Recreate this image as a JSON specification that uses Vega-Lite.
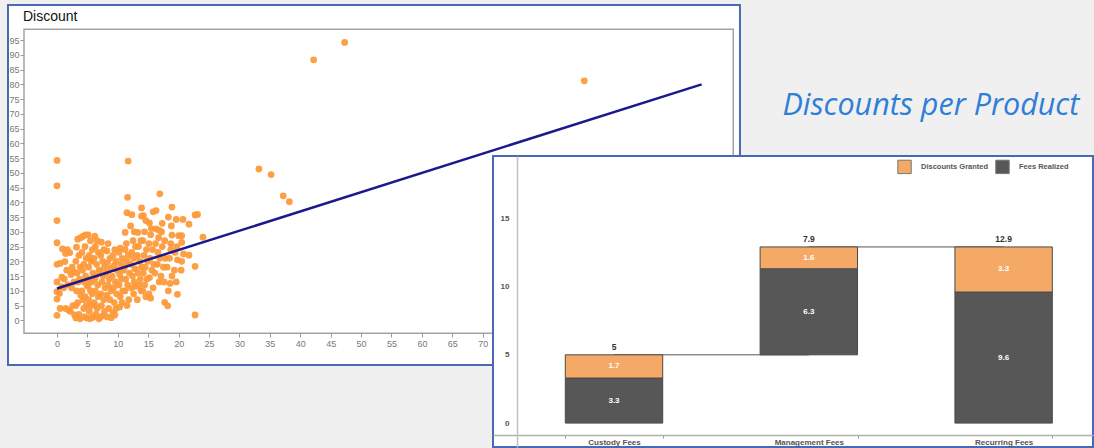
{
  "$schema": "https://vega.github.io/schema/vega-lite/v6.json",
  "background": "#f0f0f0",
  "padding": {"left": 7, "top": 4, "right": 0, "bottom": 0},
  "spacing": 0,
  "bounds": "flush",
  "resolve": {"scale": {"x": "independent", "y": "independent", "color": "independent"}},
  "config": {
    "font": "Liberation Sans",
    "axis": {"labelFont": "Liberation Sans", "grid": false},
    "legend": {"labelFont": "Liberation Sans"}
  },
  "hconcat": [
    {
      "width": 485,
      "height": 360,
      "view": {"fill": null, "stroke": null},
      "title": {"text": "Discount", "anchor": "start", "dx": 16, "offset": -20, "fontSize": 14, "fontWeight": "normal", "font": "Liberation Sans", "color": "#111111"},
      "layer": [
        {
          "data": {"values": [{"part": "panel"}]},
          "mark": {"type": "rect", "fill": "white", "stroke": "#4a69b5", "strokeWidth": 2},
          "encoding": {
            "x": {"datum": -8.06, "type": "quantitative", "scale": {"domain": [-8.06, 71.69], "nice": false, "zero": false},
                  "axis": {"title": null, "values": [0,5,10,15,20,25,30,35,40,45,50,55,60,65,70], "offset": -32, "domain": false, "tickSize": 4, "tickColor": "#9a9a9a", "labelColor": "#777777", "labelFontSize": 9, "labelPadding": 2, "zindex": 1}},
            "x2": {"datum": 112.3},
            "y": {"datum": -15.15, "type": "quantitative", "scale": {"domain": [-15.15, 106.9], "nice": false, "zero": false},
                  "axis": {"title": null, "values": [0,5,10,15,20,25,30,35,40,45,50,55,60,65,70,75,80,85,90,95], "offset": -16, "domain": false, "tickSize": 4, "tickColor": "#9a9a9a", "labelColor": "#777777", "labelFontSize": 9, "labelPadding": 1, "zindex": 1}},
            "y2": {"datum": 106.9}
          }
        },
        {
          "data": {"values": [{"part": "plot frame"}]},
          "mark": {"type": "rect", "filled": false, "stroke": "#a3a3a3", "strokeWidth": 1.5},
          "encoding": {
            "x": {"datum": -5.43, "type": "quantitative", "scale": {"domain": [-8.06, 71.69], "nice": false, "zero": false},
                  "axis": {"title": null, "values": [0,5,10,15,20,25,30,35,40,45,50,55,60,65,70], "offset": -32, "domain": false, "tickSize": 4, "tickColor": "#9a9a9a", "labelColor": "#777777", "labelFontSize": 9, "labelPadding": 2, "zindex": 1}},
            "x2": {"datum": 111.2},
            "y": {"datum": -4.4, "type": "quantitative", "scale": {"domain": [-15.15, 106.9], "nice": false, "zero": false},
                  "axis": {"title": null, "values": [0,5,10,15,20,25,30,35,40,45,50,55,60,65,70,75,80,85,90,95], "offset": -16, "domain": false, "tickSize": 4, "tickColor": "#9a9a9a", "labelColor": "#777777", "labelFontSize": 9, "labelPadding": 1, "zindex": 1}},
            "y2": {"datum": 98.7}
          }
        },
        {
          "data": {"values": [
            {"x":0,"y":54.2},{"x":0,"y":45.6},{"x":11.7,"y":54},{"x":42.2,"y":88.3},{"x":47.3,"y":94.2},{"x":33.2,"y":51.3},{"x":35.2,"y":49.4},{"x":37.2,"y":42.2},{"x":38.2,"y":40.2},{"x":86.7,"y":81.2},{"x":22.7,"y":1.8},{"x":24,"y":28.2},{"x":22.7,"y":18.3},
            {"x":0,"y":33.8},{"x":0,"y":26.3},{"x":0,"y":19},{"x":0.5,"y":19.3},{"x":0,"y":13},{"x":0,"y":9.7},{"x":0,"y":7.2},{"x":0,"y":1.7},{"x":0.9,"y":24.2},{"x":0.8,"y":14.6},{"x":0.8,"y":11.3},{"x":0.4,"y":9.1},{"x":0.5,"y":4},
            {"x":1.4,"y":22.6},{"x":1.3,"y":19.9},{"x":1.6,"y":17},{"x":1.2,"y":14},{"x":1.8,"y":12},{"x":1.1,"y":11},{"x":1.4,"y":4},{"x":1.9,"y":3.5},{"x":1.7,"y":24},
            {"x":2.1,"y":22.9},{"x":2.5,"y":18},{"x":2.3,"y":15.5},{"x":2.8,"y":13},{"x":2.4,"y":11},{"x":2.6,"y":5},{"x":2.2,"y":3},{"x":2.9,"y":1.8},{"x":2.7,"y":16.5},
            {"x":3.4,"y":27.5},{"x":3.2,"y":24.8},{"x":3.6,"y":22},{"x":3.1,"y":20},{"x":3.8,"y":18},{"x":3.3,"y":16},{"x":3.7,"y":14},{"x":3.5,"y":13},{"x":3.2,"y":10},{"x":3.9,"y":8.5},{"x":3.4,"y":6},{"x":3.1,"y":5},{"x":3.6,"y":2},{"x":3.1,"y":0.8},{"x":3.8,"y":0.5},{"x":3.9,"y":28},
            {"x":4.3,"y":28.5},{"x":4.6,"y":25},{"x":4.1,"y":23},{"x":4.8,"y":21},{"x":4.4,"y":19},{"x":4.2,"y":17},{"x":4.7,"y":15},{"x":4.5,"y":13},{"x":4.9,"y":12},{"x":4.1,"y":10},{"x":4.6,"y":8},{"x":4.3,"y":7},{"x":4.8,"y":5},{"x":4.4,"y":4},{"x":4.5,"y":1.2},{"x":4.9,"y":0.8},{"x":4.7,"y":29},
            {"x":5.1,"y":29},{"x":5.5,"y":27},{"x":5.8,"y":24},{"x":5.3,"y":22},{"x":5.6,"y":20},{"x":5.2,"y":18},{"x":5.9,"y":16},{"x":5.4,"y":14},{"x":5.7,"y":13},{"x":5.1,"y":11.5},{"x":5.5,"y":10},{"x":5.8,"y":9},{"x":5.2,"y":7},{"x":5.6,"y":5},{"x":5.3,"y":3},{"x":5.9,"y":1},{"x":5.4,"y":0.5},{"x":5.7,"y":20.5},
            {"x":6.2,"y":28.5},{"x":6.6,"y":27},{"x":6.3,"y":25},{"x":6.8,"y":23},{"x":6.1,"y":21},{"x":6.5,"y":19},{"x":6.9,"y":17},{"x":6.4,"y":15},{"x":6.2,"y":14},{"x":6.7,"y":12},{"x":6.3,"y":10},{"x":6.8,"y":8},{"x":6.1,"y":6},{"x":6.3,"y":5.1},{"x":6.6,"y":4},{"x":6.4,"y":2},{"x":6.9,"y":0.5},{"x":6,"y":1.2},
            {"x":7.3,"y":26.5},{"x":7.7,"y":24},{"x":7.2,"y":22},{"x":7.5,"y":20},{"x":7.8,"y":18},{"x":7.1,"y":16.5},{"x":7.6,"y":15},{"x":7.4,"y":13},{"x":7.9,"y":11},{"x":7.2,"y":9},{"x":7.7,"y":7},{"x":7.3,"y":5},{"x":7.8,"y":3},{"x":7,"y":0.9},{"x":7.5,"y":1.5},
            {"x":8.4,"y":26},{"x":8.2,"y":23.5},{"x":8.7,"y":21},{"x":8.3,"y":19.5},{"x":8.8,"y":17.5},{"x":8.1,"y":16},{"x":8.6,"y":14},{"x":8.4,"y":12},{"x":8.9,"y":10},{"x":8.2,"y":8.5},{"x":8.7,"y":7},{"x":8.5,"y":4},{"x":8.2,"y":1.2},{"x":8.9,"y":0.9},
            {"x":9.5,"y":24},{"x":9.2,"y":22},{"x":9.7,"y":20},{"x":9.4,"y":18.5},{"x":9.9,"y":17},{"x":9.1,"y":15},{"x":9.6,"y":13},{"x":9.3,"y":11},{"x":9.8,"y":9},{"x":9.4,"y":6},{"x":9.7,"y":4},{"x":9.5,"y":1.8},{"x":9.2,"y":2.6},
            {"x":10.4,"y":24.5},{"x":10.2,"y":23},{"x":10.7,"y":21},{"x":10.5,"y":19},{"x":10.9,"y":17},{"x":10.3,"y":15.5},{"x":10.6,"y":14},{"x":10.2,"y":12},{"x":10.8,"y":10},{"x":10.4,"y":8},{"x":10.7,"y":6},{"x":10.3,"y":4.5},
            {"x":11.6,"y":41.7},{"x":11.5,"y":36.5},{"x":11.2,"y":29.8},{"x":11.4,"y":26},{"x":11.2,"y":24},{"x":11.7,"y":22},{"x":11.5,"y":20},{"x":11.1,"y":18},{"x":11.9,"y":16},{"x":11.3,"y":14},{"x":11.6,"y":12},{"x":11.2,"y":10},{"x":11.8,"y":7},{"x":11.5,"y":5},
            {"x":12.3,"y":35.8},{"x":12.1,"y":32},{"x":12.7,"y":30},{"x":12.5,"y":27},{"x":12.9,"y":25},{"x":12.3,"y":23},{"x":12.6,"y":21},{"x":12.1,"y":19},{"x":12.8,"y":17.5},{"x":12.4,"y":15},{"x":12.7,"y":13},{"x":12.2,"y":11},{"x":12.6,"y":9},{"x":12.9,"y":11.5},
            {"x":13.9,"y":38.1},{"x":13.3,"y":29.8},{"x":13.8,"y":27},{"x":13.4,"y":25},{"x":13.2,"y":22},{"x":13.6,"y":20},{"x":13.9,"y":18},{"x":13.3,"y":16},{"x":13.7,"y":14},{"x":13.5,"y":12},{"x":13.2,"y":7},{"x":13.8,"y":10},{"x":13.9,"y":35.3},
            {"x":14.6,"y":33.8},{"x":14.2,"y":35.5},{"x":14.4,"y":30},{"x":14.1,"y":27},{"x":14.7,"y":24},{"x":14.3,"y":22},{"x":14.9,"y":20},{"x":14.5,"y":18},{"x":14.2,"y":16},{"x":14.8,"y":14},{"x":14.4,"y":12},{"x":14.6,"y":8},{"x":14.1,"y":10},
            {"x":15.8,"y":36.8},{"x":15.2,"y":33},{"x":15.5,"y":31.1},{"x":15.4,"y":29},{"x":15.1,"y":26},{"x":15.7,"y":24},{"x":15.3,"y":21},{"x":15.9,"y":19},{"x":15.6,"y":17},{"x":15.2,"y":14.5},{"x":15.8,"y":11},{"x":15.4,"y":7.5},{"x":15.1,"y":9},
            {"x":16.3,"y":37.2},{"x":16.8,"y":30.5},{"x":16.3,"y":31},{"x":16.7,"y":28},{"x":16.2,"y":26},{"x":16.6,"y":23},{"x":16.9,"y":21},{"x":16.5,"y":19},{"x":16.1,"y":16},{"x":16.8,"y":13},{"x":16.9,"y":42.9},
            {"x":17.3,"y":32.9},{"x":17.2,"y":30},{"x":17.7,"y":27},{"x":17.3,"y":25},{"x":17.8,"y":21},{"x":17.5,"y":18},{"x":17.1,"y":15},{"x":17.6,"y":13},{"x":17.7,"y":6.1},{"x":18.2,"y":4.9},
            {"x":18.9,"y":38.4},{"x":18.3,"y":35},{"x":18.8,"y":32},{"x":18.9,"y":28.9},{"x":18.7,"y":26},{"x":18.7,"y":24},{"x":18.5,"y":21},{"x":18.1,"y":18},{"x":18.9,"y":15},{"x":18.3,"y":10},{"x":18.6,"y":12.5},
            {"x":19.6,"y":34.2},{"x":20,"y":28.7},{"x":19.7,"y":25},{"x":19.4,"y":23},{"x":19.8,"y":20.5},{"x":19.3,"y":17},{"x":19.6,"y":13},{"x":19.8,"y":8.8},
            {"x":20.7,"y":34.2},{"x":20.5,"y":28.7},{"x":20.5,"y":26.4},{"x":20.8,"y":22.5},{"x":20.5,"y":20},{"x":20.4,"y":17},
            {"x":21.7,"y":32.6},{"x":21.7,"y":22.1},{"x":22.7,"y":35.7},{"x":23.1,"y":35.9}
          ]},
          "mark": {"type": "circle", "size": 46, "color": "#fd9a3b", "opacity": 0.95},
          "encoding": {
            "x": {"field": "x", "type": "quantitative", "scale": {"domain": [-8.06, 71.69], "nice": false, "zero": false},
                  "axis": {"title": null, "values": [0,5,10,15,20,25,30,35,40,45,50,55,60,65,70], "offset": -32, "domain": false, "tickSize": 4, "tickColor": "#9a9a9a", "labelColor": "#777777", "labelFontSize": 9, "labelPadding": 2, "zindex": 1}},
            "y": {"field": "y", "type": "quantitative", "scale": {"domain": [-15.15, 106.9], "nice": false, "zero": false},
                  "axis": {"title": null, "values": [0,5,10,15,20,25,30,35,40,45,50,55,60,65,70,75,80,85,90,95], "offset": -16, "domain": false, "tickSize": 4, "tickColor": "#9a9a9a", "labelColor": "#777777", "labelFontSize": 9, "labelPadding": 1, "zindex": 1}}
          }
        },
        {
          "data": {"values": [{"x": 0, "y": 10.8}, {"x": 106, "y": 80}]},
          "mark": {"type": "line", "color": "#1a1a8c", "strokeWidth": 2.5},
          "encoding": {
            "x": {"field": "x", "type": "quantitative", "scale": {"domain": [-8.06, 71.69], "nice": false, "zero": false},
                  "axis": {"title": null, "values": [0,5,10,15,20,25,30,35,40,45,50,55,60,65,70], "offset": -32, "domain": false, "tickSize": 4, "tickColor": "#9a9a9a", "labelColor": "#777777", "labelFontSize": 9, "labelPadding": 2, "zindex": 1}},
            "y": {"field": "y", "type": "quantitative", "scale": {"domain": [-15.15, 106.9], "nice": false, "zero": false},
                  "axis": {"title": null, "values": [0,5,10,15,20,25,30,35,40,45,50,55,60,65,70,75,80,85,90,95], "offset": -16, "domain": false, "tickSize": 4, "tickColor": "#9a9a9a", "labelColor": "#777777", "labelFontSize": 9, "labelPadding": 1, "zindex": 1}}
          }
        }
      ]
    },
    {
      "spacing": 0,
      "resolve": {"scale": {"x": "independent", "y": "independent"}},
      "vconcat": [
        {
          "width": 600,
          "height": 150,
          "view": {"stroke": null, "fill": null},
          "data": {"values": [{"label": "Discounts per Product"}]},
          "mark": {"type": "text", "align": "right", "baseline": "alphabetic", "fontSize": 30.5, "fontStyle": "italic", "font": "Open Sans", "color": "#2f7ed8"},
          "encoding": {
            "text": {"field": "label"},
            "x": {"datum": 0.977, "type": "quantitative", "scale": {"domain": [0, 1]}, "axis": null},
            "y": {"datum": 0.265, "type": "quantitative", "scale": {"domain": [0, 1]}, "axis": null}
          }
        },
        {
          "width": 600,
          "height": 291,
          "view": {"fill": "white", "stroke": "#4a69b5", "strokeWidth": 2},
          "data": {"values": [
            {"product": "Custody Fees", "type": "Fees Realized", "value": 3.3, "seq": 1},
            {"product": "Custody Fees", "type": "Discounts Granted", "value": 1.7, "seq": 2},
            {"product": "Management Fees", "type": "Base", "value": 5, "seq": 0},
            {"product": "Management Fees", "type": "Fees Realized", "value": 6.3, "seq": 1},
            {"product": "Management Fees", "type": "Discounts Granted", "value": 1.6, "seq": 2},
            {"product": "Recurring Fees", "type": "Fees Realized", "value": 9.6, "seq": 1},
            {"product": "Recurring Fees", "type": "Discounts Granted", "value": 3.3, "seq": 2}
          ]},
          "layer": [
            {
              "data": {"values": [
                {"from": "Custody Fees", "to": "Management Fees", "level": 5},
                {"from": "Management Fees", "to": "Recurring Fees", "level": 12.9}
              ]},
              "mark": {"type": "rule", "color": "#555555", "strokeWidth": 1},
              "encoding": {
                "x": {"field": "from", "type": "nominal", "scale": {"domain": ["Custody Fees", "Management Fees", "Recurring Fees"], "paddingInner": 0.5, "paddingOuter": 0.29, "align": 0.64},
                      "axis": {"title": null, "labelAngle": 0, "labelFontSize": 8, "labelFontWeight": "bold", "labelColor": "#555555", "offset": -12, "domainColor": "#b0b0b0", "domainWidth": 1.5, "tickBand": "extent", "tickSize": 3, "tickColor": "#999999", "labelPadding": 0, "zindex": 1}},
                "x2": {"field": "to"},
                "y": {"field": "level", "type": "quantitative", "scale": {"domain": [-1.75, 19.56], "nice": false, "zero": false},
                      "axis": {"title": null, "values": [0, 5, 10, 15], "offset": -24, "domainColor": "#c0c0c0", "domainWidth": 1.5, "ticks": false, "labelPadding": 8, "labelFontSize": 8, "labelFontWeight": "bold", "labelColor": "#555555", "zindex": 1}}
              }
            },
            {
              "mark": {"type": "bar", "stroke": "#4a4a4a", "strokeWidth": 1},
              "encoding": {
                "x": {"field": "product", "type": "nominal", "scale": {"domain": ["Custody Fees", "Management Fees", "Recurring Fees"], "paddingInner": 0.5, "paddingOuter": 0.29, "align": 0.64},
                      "axis": {"title": null, "labelAngle": 0, "labelFontSize": 8, "labelFontWeight": "bold", "labelColor": "#555555", "offset": -12, "domainColor": "#b0b0b0", "domainWidth": 1.5, "tickBand": "extent", "tickSize": 3, "tickColor": "#999999", "labelPadding": 0, "zindex": 1}},
                "y": {"field": "value", "type": "quantitative", "stack": "zero", "scale": {"domain": [-1.75, 19.56], "nice": false, "zero": false},
                      "axis": {"title": null, "values": [0, 5, 10, 15], "offset": -24, "domainColor": "#c0c0c0", "domainWidth": 1.5, "ticks": false, "labelPadding": 8, "labelFontSize": 8, "labelFontWeight": "bold", "labelColor": "#555555", "zindex": 1}},
                "color": {"field": "type", "type": "nominal", "scale": {"domain": ["Base", "Discounts Granted", "Fees Realized"], "range": ["#ffffff", "#f4a966", "#575757"]},
                          "legend": {"title": null, "values": ["Discounts Granted", "Fees Realized"], "orient": "none", "legendX": 404, "legendY": 154, "direction": "horizontal", "symbolType": "square", "symbolSize": 180, "symbolStrokeColor": "#777777", "symbolStrokeWidth": 1, "symbolOpacity": 1, "labelFontSize": 7.5, "labelFontWeight": "bold", "labelColor": "#555555", "labelOffset": 9, "columnPadding": 4}},
                "order": {"field": "seq", "type": "quantitative"},
                "opacity": {"condition": {"test": "datum.type === 'Base'", "value": 0}, "value": 1}
              }
            },
            {
              "mark": {"type": "text", "color": "white", "fontWeight": "bold", "fontSize": 8, "font": "Liberation Sans", "baseline": "middle"},
              "encoding": {
                "x": {"field": "product", "type": "nominal", "scale": {"domain": ["Custody Fees", "Management Fees", "Recurring Fees"], "paddingInner": 0.5, "paddingOuter": 0.29, "align": 0.64},
                      "axis": {"title": null, "labelAngle": 0, "labelFontSize": 8, "labelFontWeight": "bold", "labelColor": "#555555", "offset": -12, "domainColor": "#b0b0b0", "domainWidth": 1.5, "tickBand": "extent", "tickSize": 3, "tickColor": "#999999", "labelPadding": 0, "zindex": 1}},
                "y": {"field": "value", "type": "quantitative", "stack": "zero", "bandPosition": 0.5, "scale": {"domain": [-1.75, 19.56], "nice": false, "zero": false},
                      "axis": {"title": null, "values": [0, 5, 10, 15], "offset": -24, "domainColor": "#c0c0c0", "domainWidth": 1.5, "ticks": false, "labelPadding": 8, "labelFontSize": 8, "labelFontWeight": "bold", "labelColor": "#555555", "zindex": 1}},
                "detail": {"field": "type", "type": "nominal"},
                "order": {"field": "seq", "type": "quantitative"},
                "text": {"field": "value", "type": "quantitative", "format": ".1f"},
                "opacity": {"condition": {"test": "datum.type === 'Base'", "value": 0}, "value": 1}
              }
            },
            {
              "data": {"values": [
                {"product": "Custody Fees", "top": 5, "total": 5},
                {"product": "Management Fees", "top": 12.9, "total": 7.9},
                {"product": "Recurring Fees", "top": 12.9, "total": 12.9}
              ]},
              "mark": {"type": "text", "color": "#333333", "fontWeight": "bold", "fontSize": 8.5, "font": "Liberation Sans", "baseline": "bottom", "dy": -3},
              "encoding": {
                "x": {"field": "product", "type": "nominal", "scale": {"domain": ["Custody Fees", "Management Fees", "Recurring Fees"], "paddingInner": 0.5, "paddingOuter": 0.29, "align": 0.64},
                      "axis": {"title": null, "labelAngle": 0, "labelFontSize": 8, "labelFontWeight": "bold", "labelColor": "#555555", "offset": -12, "domainColor": "#b0b0b0", "domainWidth": 1.5, "tickBand": "extent", "tickSize": 3, "tickColor": "#999999", "labelPadding": 0, "zindex": 1}},
                "y": {"field": "top", "type": "quantitative", "scale": {"domain": [-1.75, 19.56], "nice": false, "zero": false},
                      "axis": {"title": null, "values": [0, 5, 10, 15], "offset": -24, "domainColor": "#c0c0c0", "domainWidth": 1.5, "ticks": false, "labelPadding": 8, "labelFontSize": 8, "labelFontWeight": "bold", "labelColor": "#555555", "zindex": 1}},
                "text": {"field": "total", "type": "quantitative"}
              }
            }
          ]
        }
      ]
    }
  ]
}
